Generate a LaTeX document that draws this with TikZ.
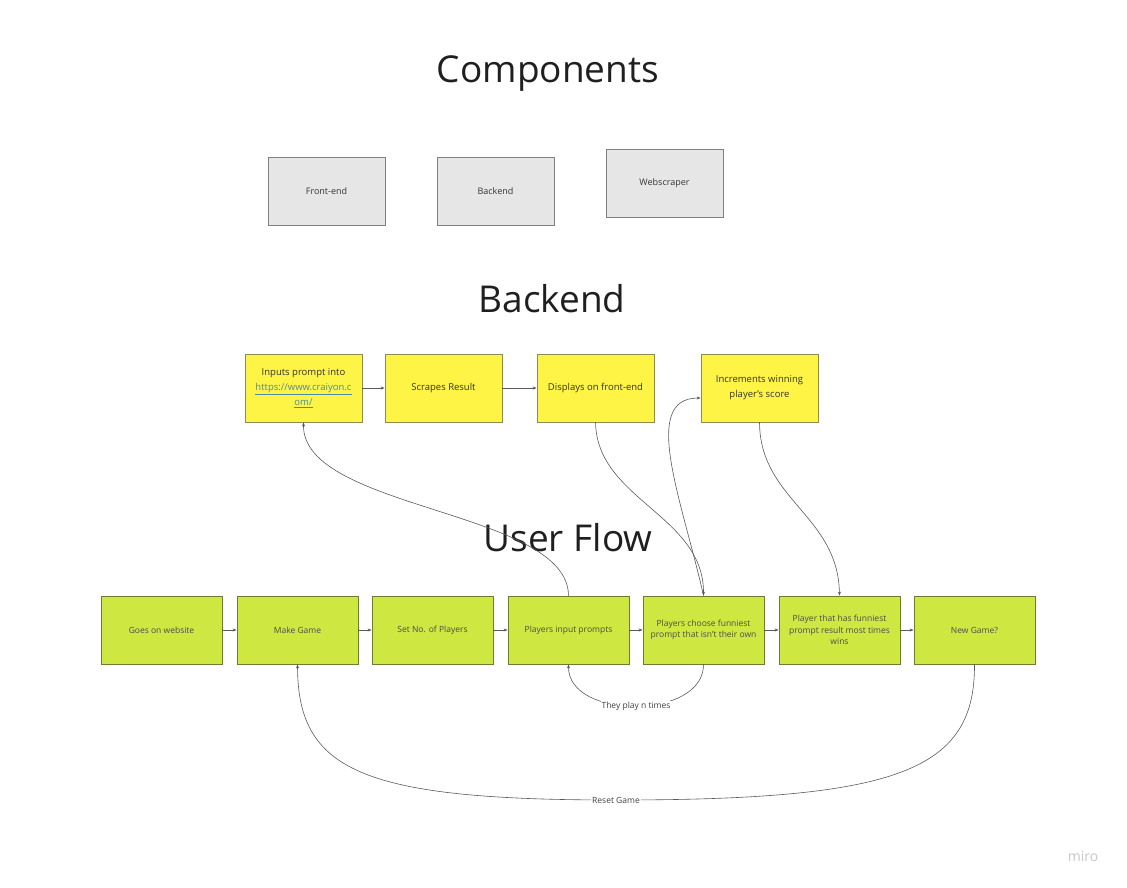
\documentclass[tikz,border=0pt]{standalone}
\usepackage{fontspec}
\setmainfont{Open Sans}
\usepackage{tikz}
\usetikzlibrary{arrows.meta}

\definecolor{compgray}{HTML}{E6E6E6}
\definecolor{stickyyellow}{HTML}{FEF445}
\definecolor{stickylime}{HTML}{CEE741}
\definecolor{yellowline}{HTML}{8C8C50}
\definecolor{limeline}{HTML}{6F7A36}
\definecolor{linkblue}{HTML}{4A8AA6}

\begin{document}
\begin{tikzpicture}[x=1pt, y=-1pt,
    title/.style={text=black!88, font=\fontsize{37}{40}\selectfont},
    comp/.style={draw=black!50, fill=compgray, line width=0.8pt, minimum width=117pt, minimum height=68pt, inner sep=0pt, text=black!80, font=\fontsize{9}{12}\selectfont},
    back/.style={draw=yellowline, fill=stickyyellow, line width=0.8pt, minimum width=117pt, minimum height=68pt, inner sep=0pt, align=center, text=black!80, font=\fontsize{9.5}{15}\selectfont},
    flow/.style={draw=limeline, fill=stickylime, line width=0.8pt, minimum width=121pt, minimum height=68pt, inner sep=0pt, align=center, text=black!70, font=\fontsize{8.5}{11.5}\selectfont},
    link/.style={draw=black!65, line width=0.6pt, -{Stealth[length=4pt, width=3pt]}},
    tag/.style={fill=white, inner sep=1pt, text=black!75, font=\fontsize{8.5}{10}\selectfont}]
            \useasboundingbox (0, 0) rectangle (1127, 887);

            % titles
            \node[title] (T1) at (548, 74) {Components};
            \node[title] (T2) at (552, 299) {Backend};
            \node[title] (T3) at (568, 538) {User Flow};

            % components
            \node[comp] (FE) at (326.5, 191) {Front-end};
            \node[comp] (BE) at (495.5, 191) {Backend};
            \node[comp] (WS) at (664.5, 183) {Webscraper};

            % backend
            \node[back] (IP) at (303.5, 388) {Inputs prompt into\\{\color{linkblue}\underline{https://www.craiyon.c}}\\{\color{linkblue}\underline{om/}}};
            \node[back] (SR) at (443.5, 388) {Scrapes Result};
            \node[back] (DF) at (595.5, 388) {Displays on front-end};
            \node[back] (IW) at (759.5, 388) {Increments winning\\player's score};

            % user flow
            \node[flow] (GW) at (161.5, 630) {Goes on website};
            \node[flow] (MG) at (297.5, 630) {Make Game};
            \node[flow] (SN) at (432.5, 630) {Set No. of Players};
            \node[flow] (PI) at (568.5, 630) {Players input prompts};
            \node[flow] (PC) at (703.5, 630) {Players choose funniest\\prompt that isn't their own};
            \node[flow] (PF) at (839.5, 630) {Player that has funniest\\prompt result most times\\wins};
            \node[flow] (NG) at (974.5, 630) {New Game?};

            \draw[link] (IP) -- (SR);
            \draw[link] (SR) -- (DF);
            \draw[link] (GW) -- (MG);
            \draw[link] (MG) -- (SN);
            \draw[link] (SN) -- (PI);
            \draw[link] (PI) -- (PC);
            \draw[link] (PC) -- (PF);
            \draw[link] (PF) -- (NG);

            \draw[link] (PI.north) .. controls (568, 510) and (302, 510) .. (IP.south);
            \draw[link] (DF.south) .. controls (597, 500) and (704, 515) .. (PC.north);
            \draw[link] (PC.north) .. controls (682, 500) and (640, 398) .. ([yshift=-10pt]IW.west);
            \draw[link] (IW.south) .. controls (760, 500) and (838, 515) .. (PF.north);
            \draw[link] (PC.south) .. controls (704, 720) and (568, 720) .. node[tag, pos=0.5] (L1) {They play n times} (PI.south);
            \draw[link] (NG.south) .. controls (975, 770) and (900, 800) .. (616, 800) node[tag] (L2) {Reset Game}
                .. controls (360, 800) and (298, 770) .. (MG.south);

            \node[text=black!22, font=\fontsize{14}{16}\selectfont] (M) at (1083, 856) {miro};
        \end{tikzpicture}
\end{document}
